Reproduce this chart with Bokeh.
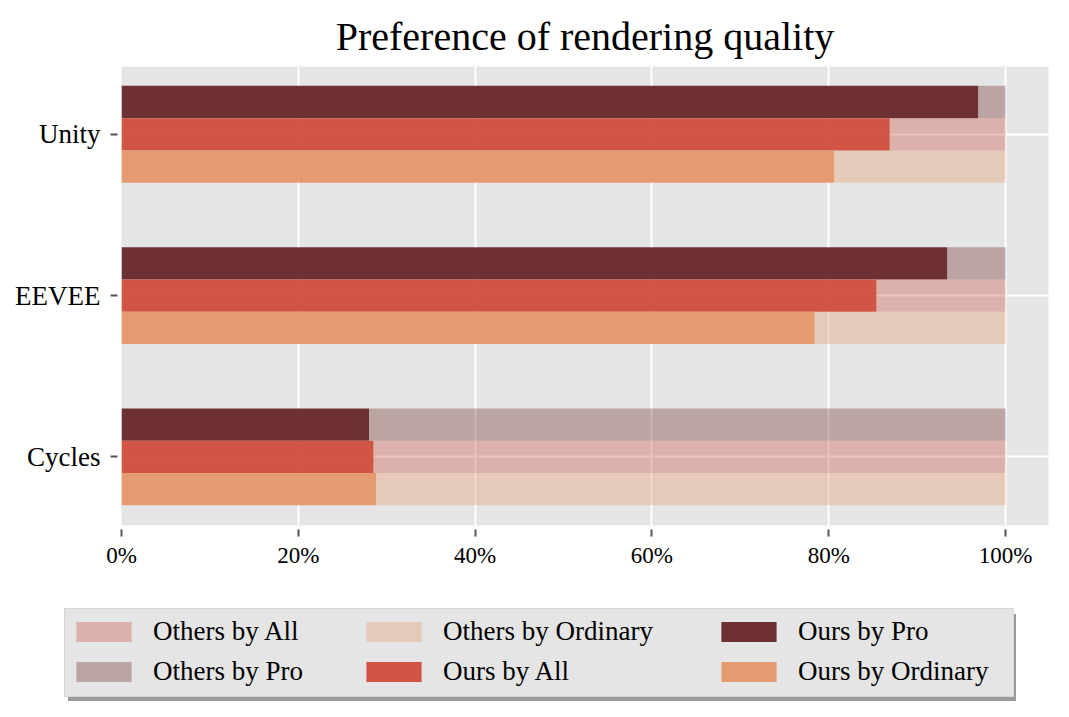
from bokeh.plotting import figure
from bokeh.layouts import column
from bokeh.models import (Range1d, FixedTicker, NumeralTickFormatter, Legend,
                          LegendItem, ColumnDataSource)
from bokeh.embed import file_html
from bokeh.resources import INLINE

# ---------------- data ----------------
categories = ["Cycles", "EEVEE", "Unity"]
ours_pro = [0.280, 0.934, 0.969]
ours_all = [0.285, 0.854, 0.869]
ours_ordinary = [0.288, 0.784, 0.806]
total = [1.0, 1.0, 1.0]
x_ticks = [0.0, 0.2, 0.4, 0.6, 0.8, 1.0]

# ---------------- styles ----------------
C_PRO = "#692A2C"
C_ALL = "#CF4F3E"
C_ORD = "#E5976B"
OURS_ALPHA = 0.96
OTHERS_ALPHA = 0.35
BAR_H = 0.2
FONT = "Liberation Serif"

pos = list(range(len(categories)))
offsets = {"pro": BAR_H, "all": 0.0, "ord": -BAR_H}

p = figure(frame_width=927, frame_height=459,
           min_border_left=121, min_border_right=13,
           min_border_top=66, min_border_bottom=75,
           x_range=Range1d(0, 1.0486), y_range=Range1d(-0.425, 2.42),
           output_backend="svg", toolbar_location=None,
           title="Preference of rendering quality")

p.background_fill_color = "#E5E5E5"
p.border_fill_color = "white"
p.outline_line_color = None

p.title.text_font = FONT
p.title.text_font_size = "40px"
p.title.text_font_style = "normal"
p.title.align = "center"
p.title.text_color = "black"
p.title.standoff = 16

sources = {}
for key, ours, color in [("pro", ours_pro, C_PRO), ("all", ours_all, C_ALL),
                         ("ord", ours_ordinary, C_ORD)]:
    src = ColumnDataSource(dict(
        y=[v + offsets[key] for v in pos], ours=ours, total=total))
    sources[key] = src
    p.hbar(y="y", left=0, right="ours", height=BAR_H, source=src,
           fill_color=color, fill_alpha=OURS_ALPHA, line_color=None)
    p.hbar(y="y", left="ours", right="total", height=BAR_H, source=src,
           fill_color=color, fill_alpha=OTHERS_ALPHA, line_color=None)

# grid
p.xgrid.ticker = FixedTicker(ticks=x_ticks)
p.ygrid.ticker = FixedTicker(ticks=pos)
for g in (p.xgrid, p.ygrid):
    g.grid_line_color = "white"
    g.grid_line_width = 2

# axes
p.xaxis.ticker = FixedTicker(ticks=x_ticks)
p.xaxis.formatter = NumeralTickFormatter(format="0%")
p.yaxis.ticker = FixedTicker(ticks=pos)
p.yaxis.major_label_overrides = {i: c for i, c in zip(pos, categories)}
for ax in (p.xaxis, p.yaxis):
    ax.axis_line_color = None
    ax.major_tick_line_color = "#555555"
    ax.major_tick_line_width = 2
    ax.major_tick_in = -4
    ax.major_tick_out = 11
    ax.minor_tick_line_color = None
    ax.major_label_text_font = FONT
    ax.major_label_text_color = "black"
p.xaxis.major_label_text_font_size = "23px"
p.xaxis.major_label_standoff = 6
p.yaxis.major_label_text_font_size = "27px"
p.yaxis.major_label_standoff = 10

# ---------------- legend figure ----------------
# (its y range lies away from the data, so the proxy bars stay out of view)
LEG_H = 110
q = figure(width=1061, height=LEG_H, min_border=0,
           x_range=Range1d(0, 1), y_range=Range1d(10, 11),
           x_axis_type=None, y_axis_type=None,
           output_backend="svg", toolbar_location=None)
q.outline_line_color = None
q.background_fill_color = "white"
q.border_fill_color = "white"
q.grid.visible = False
try:
    q.frame_align = False
except Exception:
    pass


def swatch(key, color, alpha):
    return q.hbar(y="y", left=0, right="ours", height=BAR_H,
                  source=sources[key], fill_color=color,
                  fill_alpha=alpha, line_color=None)


box_proxy = q.hbar(y="y", left=0, right="ours", height=BAR_H,
                   source=sources["pro"], fill_alpha=0, line_alpha=0)


def box_legend(loc, color, border):
    return Legend(items=[LegendItem(label=" ", renderers=[box_proxy])],
                  location=loc, padding=0, margin=0, glyph_width=1,
                  glyph_height=1, label_standoff=0, label_width=947,
                  label_height=87, label_text_alpha=0,
                  background_fill_color=color, background_fill_alpha=1,
                  border_line_color=border, border_line_width=1.5)


q.add_layout(box_legend((68, 9), "#9A9A9A", None), "center")
q.add_layout(box_legend((64, 13), "#E5E5E5", "#C8C8C8"), "center")

columns = [
    (69, [("Others by All", swatch("all", C_ALL, OTHERS_ALPHA)),
          ("Others by Pro", swatch("pro", C_PRO, OTHERS_ALPHA))]),
    (359, [("Others by Ordinary", swatch("ord", C_ORD, OTHERS_ALPHA)),
           ("Ours by All", swatch("all", C_ALL, OURS_ALPHA))]),
    (714, [("Ours by Pro", swatch("pro", C_PRO, OURS_ALPHA)),
           ("Ours by Ordinary", swatch("ord", C_ORD, OURS_ALPHA))]),
]
for x, its in columns:
    leg = Legend(items=[LegendItem(label=l, renderers=[r]) for l, r in its],
                 location=(x, 23), orientation="vertical",
                 padding=0, margin=0, spacing=9,
                 glyph_width=69, glyph_height=25, label_standoff=15,
                 label_height=20,
                 label_text_font=FONT, label_text_font_size="27px",
                 label_text_color="black",
                 background_fill_alpha=0, border_line_alpha=0)
    q.add_layout(leg, "center")

layout = column(p, q, spacing=0)
open("out.html", "w").write(file_html(layout, INLINE))
